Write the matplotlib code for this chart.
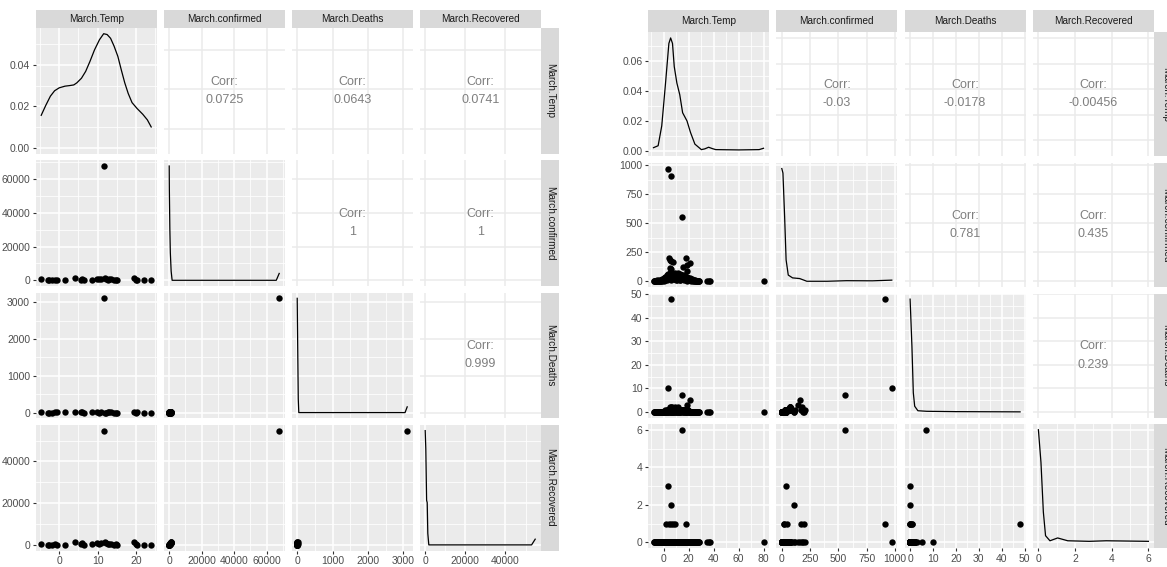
import matplotlib.pyplot as plt
import numpy as np

plt.rcParams['font.family'] = ['Liberation Sans', 'DejaVu Sans']

# ---------------- left matrix : provinces ----------------
var_names = ["March.Temp", "March.confirmed", "March.Deaths", "March.Recovered"]

L_temp = [-4.7, -3.0, -2.6, -2.0, -1.2, -0.5, 1.4, 4.2, 5.6, 6.0, 6.4, 8.6, 9.8, 10.5, 10.9,
          11.6, 11.9, 12.3, 12.6, 13.0, 13.5, 14.4, 14.8, 15.2, 19.6, 20.0, 20.4, 22.0, 24.0]
L_confirmed = [480, 93, 125, 75, 318, 76, 136, 1272, 245, 758, 133, 435, 990, 631, 1018,
               67800, 1215, 935, 350, 576, 539, 146, 296, 174, 1350, 252, 168, 18, 1]
L_deaths = [13, 1, 1, 1, 6, 3, 3, 22, 3, 6, 0, 8, 6, 0, 4,
            3111, 1, 1, 3, 6, 3, 2, 1, 2, 8, 2, 6, 0, 0]
L_recovered = [470, 90, 120, 73, 310, 73, 120, 1250, 240, 740, 128, 420, 980, 620, 1000,
               54800, 1200, 930, 330, 560, 520, 140, 290, 170, 1300, 245, 160, 15, 1]

# density of temperature
L_temp_dens_x = [-4.7, -3.5, -2.3, -1.2, 0.0, 1.5, 2.8, 3.8, 4.6, 5.8, 6.9, 8.0, 9.2, 10.5, 11.6,
                 12.5, 13.4, 14.3, 15.3, 16.2, 17.1, 18.0, 19.0, 20.3, 21.8, 23.0, 24.0]
L_temp_dens_y = [0.0157, 0.0205, 0.0249, 0.0275, 0.0289, 0.0297, 0.0300, 0.0303, 0.0313, 0.0335,
                 0.0368, 0.0415, 0.0471, 0.0520, 0.0549, 0.0545, 0.0527, 0.0490, 0.0440, 0.0375,
                 0.0313, 0.0262, 0.0218, 0.0190, 0.0162, 0.0135, 0.0101]
# scaled densities (0..1) of the other diagonal panels
L_conf_curve_x = [1, 100, 400, 700, 1200, 1800, 66000, 67800]
L_conf_curve_f = [1.0, 0.79, 0.45, 0.24, 0.08, 0.0, 0.0, 0.06]
L_death_curve_x = [0, 15, 30, 45, 3050, 3111]
L_death_curve_f = [1.0, 0.55, 0.12, 0.0, 0.0, 0.05]
L_rec_curve_x = [0, 300, 700, 1000, 1300, 1800, 53000, 54800]
L_rec_curve_f = [1.0, 0.84, 0.39, 0.37, 0.1, 0.0, 0.0, 0.05]

L_corr = ["0.0725", "0.0643", "0.0741", "1", "1", "0.999"]

L_ticks = [[0, 10, 20], [0, 20000, 40000, 60000], [0, 1000, 2000, 3000], [0, 20000, 40000]]
L_dens_ticks = [0.0, 0.02, 0.04]

# ---------------- right matrix : countries ----------------
R_temp = [-8.0, -7.2, -6.5, -5.8, -5.0, -4.2, -3.5, -2.8, -2.0, -1.3, -0.6, 0.0, 0.6, 1.2, 1.8,
          2.4, 2.9, 3.5, 4.0, 4.6, 5.1, 5.6, 6.1, 6.6, 7.1, 7.6, 8.1, 8.6, 9.1, 9.6,
          10.1, 10.6, 11.1, 11.6, 12.1, 12.6, 13.1, 13.6, 14.1, 14.7, 15.3, 15.9, 16.5, 17.1, 17.7,
          18.3, 19.0, 19.6, 20.2, 20.9, 21.6, 22.3, 23.0, 23.8, 24.6, 25.4, 26.2, 27.0, 27.8, 28.5,
          -7.6, -6.9, -6.1, -5.4, -4.6, -3.9, -3.1, -2.4, -1.7, -1.0, -0.3, 0.3, 0.9, 1.5, 2.1,
          2.7, 3.2, 3.8, 4.3, 4.9, 5.4, 5.9, 6.4, 6.9, 7.4, 7.9, 8.4, 8.9, 9.4, 9.9,
          10.4, 10.9, 11.4, 11.9, 12.4, 12.9, 13.4, 13.9, 14.4, 15.0, 15.6, 16.2, 16.8, 17.4, 18.0,
          18.6, 19.3, 19.9, 20.5, 21.2, 21.9, 22.6, 23.4, 24.2, 25.0, 25.8, 26.6, 27.4, 28.2,
          3.2, 6.2, 14.4, 4.5, 5.5, 5.9, 7.2, 4.8, 5.8, 15.2, 18.9, 20.8, 18.6, 18.1, 3.4,
          2.0, 4.3, 9.5, 35.1, 36.0, 37.3, 80.0]
R_confirmed = [1, 3, 0, 2, 4, 1, 6, 2, 9, 5, 12, 3, 18, 8, 25,
               14, 35, 22, 48, 30, 62, 15, 70, 41, 55, 27, 66, 38, 52, 12,
               45, 60, 20, 58, 33, 50, 8, 44, 26, 56, 18, 40, 10, 35, 22,
               30, 6, 25, 14, 20, 4, 16, 9, 12, 3, 7, 2, 5, 1, 3,
               2, 5, 1, 7, 3, 10, 4, 14, 6, 20, 8, 28, 11, 40, 19,
               52, 26, 65, 33, 75, 45, 80, 24, 68, 36, 58, 17, 72, 30, 64,
               10, 50, 38, 70, 24, 60, 15, 52, 34, 46, 28, 55, 20, 44, 12,
               36, 18, 30, 8, 24, 11, 18, 5, 10, 2, 6, 1, 4, 2,
               971, 907, 556, 203, 185, 175, 168, 112, 105, 120, 140, 160, 88, 200, 38,
               16, 48, 20, 2, 0, 1, 3]
R_deaths = [0, 0, 0, 0, 0, 0, 0, 0, 0, 0, 0, 0, 0, 0, 0,
            0, 1, 0, 1, 1, 1, 0, 1, 0, 1, 0, 1, 0, 1, 0,
            1, 1, 0, 1, 0, 1, 0, 1, 0, 1, 0, 1, 0, 1, 0,
            1, 0, 1, 0, 0, 0, 0, 0, 0, 0, 0, 0, 0, 0, 0,
            0, 0, 0, 0, 0, 0, 0, 0, 0, 0, 0, 0, 0, 1, 0,
            1, 0, 1, 1, 2, 1, 1, 0, 2, 1, 1, 0, 2, 1, 1,
            0, 1, 0, 2, 0, 1, 0, 1, 1, 1, 0, 1, 0, 1, 0,
            1, 0, 1, 0, 0, 0, 0, 0, 0, 0, 0, 0, 0, 0,
            10, 48, 7, 1, 0, 2, 1, 0, 0, 1, 3, 5, 1, 0, 0,
            0, 1, 0, 0, 0, 0, 0]
R_recovered = [0] * 60 + [0] * 59 + [0, 1, 6, 0, 0, 0, 1, 0, 2, 0, 0, 0, 0, 1, 3,
                                     1, 1, 1, 0, 0, 0, 0]

R_temp_dens_x = [-8.0, -4.3, -1.4, 1.4, 4.3, 5.7, 7.2, 8.6, 10.7, 13.0, 15.3, 18.8, 21.6, 25.1,
                 30.3, 33.0, 36.1, 39.0, 41.8, 60.0, 76.5, 80.0]
R_temp_dens_y = [0.0020, 0.0033, 0.0166, 0.0430, 0.0718, 0.0755, 0.0718, 0.0563, 0.0453, 0.0375,
                 0.0254, 0.0199, 0.0122, 0.0044, 0.0007, 0.0012, 0.0023, 0.0014, 0.0007, 0.0005,
                 0.0007, 0.0016]
R_conf_curve_x = [0, 10, 25, 38, 57, 95, 158, 221, 400, 570, 800, 971]
R_conf_curve_f = [1.0, 0.96, 0.57, 0.19, 0.055, 0.03, 0.024, 0.0, 0.0, 0.005, 0.004, 0.01]
R_death_curve_x = [0, 0.8, 1.4, 2.0, 3.4, 7.3, 20, 48]
R_death_curve_f = [1.0, 0.58, 0.17, 0.05, 0.01, 0.005, 0.002, 0.0]
R_rec_curve_x = [0, 0.14, 0.27, 0.39, 0.63, 1.05, 1.6, 2.77, 3.7, 6.0]
R_rec_curve_f = [1.0, 0.71, 0.27, 0.06, 0.015, 0.04, 0.015, 0.01, 0.015, 0.01]

R_corr = ["-0.03", "-0.0178", "-0.00456", "0.781", "0.435", "0.239"]

R_ticks = [[0, 20, 40, 60, 80], [0, 250, 500, 750, 1000], [0, 10, 20, 30, 40, 50], [0, 2, 4, 6]]
R_dens_ticks = [0.0, 0.02, 0.04, 0.06]

W, H = 1167, 567
fig = plt.figure(figsize=(W / 100, H / 100), dpi=100)

PANEL = '#EBEBEB'
STRIP = '#D9D9D9'


def box(x, y, w, h):
    # pixel box measured from the top-left -> figure fraction
    return [x / W, 1 - (y + h) / H, w / W, h / H]


def lims(v):
    lo, hi = min(v), max(v)
    pad = 0.05 * (hi - lo)
    return lo - pad, hi + pad


def minors(major, lo, hi):
    step = major[1] - major[0]
    ext = [major[0] - step] + list(major) + [major[-1] + step]
    mids = [(a + b) / 2 for a, b in zip(ext[:-1], ext[1:])]
    return [m for m in mids if lo <= m <= hi]


def fmt(t, dens=False):
    return f"{t:.2f}" if dens else f"{t:g}"


def setup(ax, xt, yt, xl, yl, upper, show_x, show_y, ydens=False):
    for s in ax.spines.values():
        s.set_visible(False)
    if upper:
        ax.set_facecolor('white')
        for t in xt:
            ax.axvline(t, color=PANEL, lw=1.1, zorder=0)
        for t in yt:
            ax.axhline(t, color=PANEL, lw=1.1, zorder=0)
    else:
        ax.set_facecolor(PANEL)
        for t in minors(xt, *xl):
            ax.axvline(t, color='white', lw=0.55, zorder=0)
        for t in minors(yt, *yl):
            ax.axhline(t, color='white', lw=0.55, zorder=0)
        for t in xt:
            ax.axvline(t, color='white', lw=1.1, zorder=0)
        for t in yt:
            ax.axhline(t, color='white', lw=1.1, zorder=0)
    ax.set_xticks(xt)
    ax.set_yticks(yt)
    ax.set_xticklabels([fmt(t) for t in xt])
    ax.set_yticklabels([fmt(t, ydens) for t in yt])
    ax.set_xlim(xl)
    ax.set_ylim(yl)
    ax.tick_params(labelsize=7.5, labelcolor='#4D4D4D', color='#333333', length=2.5, width=0.8, pad=1.5,
                   left=show_y, labelleft=show_y, bottom=show_x, labelbottom=show_x)


def pairs(cols, dens_x, dens_y, curves, corr, ticks, dens_ticks,
          x0, y0, pw, ph, gx, gy, strip_h, strip_w):
    n = len(cols)
    lim = [lims(c) for c in cols]
    k = 0
    for i in range(n):
        for j in range(n):
            px = x0 + j * (pw + gx)
            py = y0 + i * (ph + gy)
            ax = fig.add_axes(box(px, py, pw, ph))
            show_x = i == n - 1
            show_y = j == 0
            if i == j == 0:
                top = max(dens_y)
                setup(ax, ticks[0], dens_ticks, lim[0], (-0.05 * top, 1.05 * top), False, show_x, show_y, True)
                ax.plot(dens_x, dens_y, color='black', lw=0.9)
            elif i == j:
                lo, hi = min(cols[i]), max(cols[i])
                cx, cf = curves[i - 1]
                setup(ax, ticks[j], ticks[i], lim[j], lim[i], False, show_x, show_y)
                ax.plot(cx, [lo + f * (hi - lo) for f in cf], color='black', lw=0.9)
            elif i < j:
                setup(ax, ticks[j], ticks[i], lim[j], lim[i], True, show_x, show_y)
                ax.annotate("Corr:", (0.5, 0.5), xycoords='axes fraction', xytext=(0, 6.5),
                            textcoords='offset points', ha='center', va='center', fontsize=9, color='#7F7F7F')
                ax.annotate(corr[k], (0.5, 0.5), xycoords='axes fraction', xytext=(0, -6.5),
                            textcoords='offset points', ha='center', va='center', fontsize=9, color='#7F7F7F')
                k += 1
            else:
                setup(ax, ticks[j], ticks[i], lim[j], lim[i], False, show_x, show_y)
                ax.scatter(cols[j], cols[i], s=21, c='black', linewidths=0, zorder=3)
    # strips
    for j in range(n):
        sx = fig.add_axes(box(x0 + j * (pw + gx), y0 - strip_h, pw, strip_h))
        sx.set_facecolor(STRIP)
        sx.set_xticks([]); sx.set_yticks([])
        for s in sx.spines.values():
            s.set_visible(False)
        sx.text(0.5, 0.5, var_names[j], ha='center', va='center', fontsize=7.2, color='#1A1A1A',
                transform=sx.transAxes)
    right = x0 + n * pw + (n - 1) * gx
    for i in range(n):
        sy = fig.add_axes(box(right + 0.5, y0 + i * (ph + gy), strip_w, ph))
        sy.set_facecolor(STRIP)
        sy.set_xticks([]); sy.set_yticks([])
        for s in sy.spines.values():
            s.set_visible(False)
        sy.text(0.5, 0.5, var_names[i], ha='center', va='center', rotation=270, fontsize=7.2,
                color='#1A1A1A', transform=sy.transAxes)


pairs([L_temp, L_confirmed, L_deaths, L_recovered], L_temp_dens_x, L_temp_dens_y,
      [(L_conf_curve_x, L_conf_curve_f), (L_death_curve_x, L_death_curve_f), (L_rec_curve_x, L_rec_curve_f)],
      L_corr, L_ticks, L_dens_ticks,
      35.7, 28, 121, 125.7, 7.0, 6.6, 18.5, 18)

pairs([R_temp, R_confirmed, R_deaths, R_recovered], R_temp_dens_x, R_temp_dens_y,
      [(R_conf_curve_x, R_conf_curve_f), (R_death_curve_x, R_death_curve_f), (R_rec_curve_x, R_rec_curve_f)],
      R_corr, R_ticks, R_dens_ticks,
      648, 32.3, 121, 124, 7.3, 6.6, 22.8, 23)

fig.savefig('out.png', dpi=100, facecolor='white')
